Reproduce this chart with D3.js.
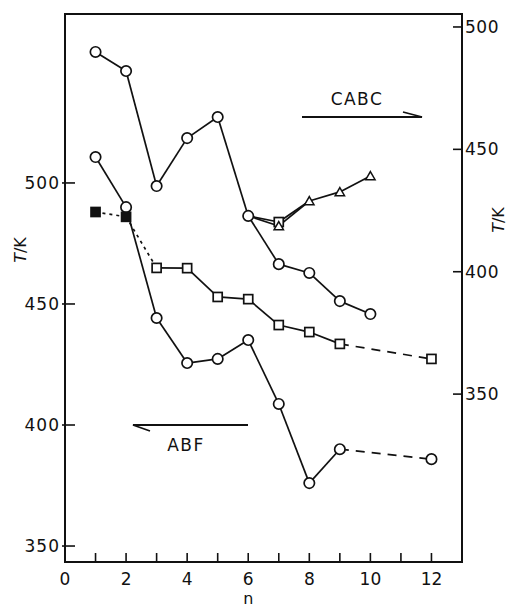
<!DOCTYPE html>
<html>
<head>
<meta charset="utf-8">
<script src="https://cdn.jsdelivr.net/npm/d3@7"></script>
<style>
  body { margin: 0; background: #fff; }
  text { font-family: "DejaVu Sans", sans-serif; fill: #111; }
</style>
</head>
<body>
<script>
// ABF series (left axis)
const abfCircN = [1, 2, 3, 4, 5, 6, 7, 8, 9, 12];
const abfCircT = [510.7, 490, 444.2, 425.6, 427.3, 435.1, 408.7, 376, 390, 385.9];
const abfCircDash = ["s", "s", "s", "s", "s", "s", "s", "s", "d"];

const abfSqN = [1, 2, 3, 4, 5, 6, 7, 8, 9, 12];
const abfSqT = [488, 486, 464.9, 464.8, 452.9, 452, 441.3, 438.4, 433.5, 427.3];
const abfSqFilled = [1, 1, 0, 0, 0, 0, 0, 0, 0, 0];
const abfSqDash = ["o", "o", "s", "s", "s", "s", "s", "s", "d"];

// CABC series (right axis)
const cabcCircN = [1, 2, 3, 4, 5, 6, 7, 8, 9, 10];
const cabcCircT = [489.8, 482, 435, 454.6, 463.2, 422.8, 403.1, 399.5, 388, 382.7];

const cabcTriN = [6, 7, 8, 9, 10];
const cabcTriT = [422.8, 418.7, 428.9, 432.6, 439.1];
const cabcTriMark = [0, 1, 1, 1, 1];

const cabcSqN = [6, 7, 8];
const cabcSqT = [422.8, 420.3, 428.9];
const cabcSqMark = [0, 1, 0];

const xTicks = d3.range(0, 13);
const xLabels = [0, 2, 4, 6, 8, 10, 12];
const leftTicks = [350, 400, 450, 500];
const rightTicks = [350, 400, 450, 500];

const width = 510, height = 609;
const L = 65, R = 462, T = 14, B = 562;

const svg = d3.select("body").append("svg")
  .attr("width", width).attr("height", height);

const x = d3.scaleLinear().domain([0, 13]).range([L, R]);
const yL = d3.scaleLinear().domain([343.4, 569.8]).range([B, T]);
const yR = d3.scaleLinear().domain([281.4, 505.3]).range([B, T]);

// frame
svg.append("rect")
  .attr("x", L).attr("y", T).attr("width", R - L).attr("height", B - T)
  .attr("fill", "none").attr("stroke", "#111").attr("stroke-width", 2);

// x ticks (inside)
svg.append("g").selectAll("line").data(xTicks.filter(d => d > 0)).enter()
  .append("line")
  .attr("x1", d => x(d)).attr("x2", d => x(d))
  .attr("y1", B).attr("y2", B - 9)
  .attr("stroke", "#111").attr("stroke-width", 1.6);
svg.append("g").selectAll("text").data(xLabels).enter()
  .append("text")
  .attr("x", d => x(d)).attr("y", 585)
  .attr("text-anchor", "middle").attr("font-size", 17)
  .text(d => d);
svg.append("text").attr("x", x(6)).attr("y", 604)
  .attr("text-anchor", "middle").attr("font-size", 16).text("n");

// left axis ticks
svg.append("g").selectAll("line").data(leftTicks).enter()
  .append("line")
  .attr("x1", L - 3).attr("x2", L + 10)
  .attr("y1", d => yL(d)).attr("y2", d => yL(d))
  .attr("stroke", "#111").attr("stroke-width", 1.6);
svg.append("g").selectAll("text").data(leftTicks).enter()
  .append("text")
  .attr("x", 60).attr("y", d => yL(d) + 6)
  .attr("text-anchor", "end").attr("font-size", 17).attr("letter-spacing", 1)
  .text(d => d);

// right axis ticks
svg.append("g").selectAll("line").data(rightTicks).enter()
  .append("line")
  .attr("x1", R - 9).attr("x2", R)
  .attr("y1", d => yR(d)).attr("y2", d => yR(d))
  .attr("stroke", "#111").attr("stroke-width", 1.6);
svg.append("g").selectAll("text").data(rightTicks).enter()
  .append("text")
  .attr("x", 465).attr("y", d => yR(d) + 6)
  .attr("text-anchor", "start").attr("font-size", 17).attr("letter-spacing", 0.5)
  .text(d => d);

// axis titles
function axTitle(cx, cy) {
  const t = svg.append("text")
    .attr("transform", `translate(${cx},${cy}) rotate(-90)`)
    .attr("text-anchor", "middle").attr("font-size", 16);
  t.append("tspan").attr("font-style", "italic").text("T");
  t.append("tspan").text("/K");
}
axTitle(26, 250);
axTitle(504, 220);

// lines
const dashes = { s: null, d: "9,7", o: "3,4" };
function drawLine(ns, ts, y, styles) {
  for (let i = 0; i < ns.length - 1; i++) {
    const st = styles ? styles[i] : "s";
    svg.append("line")
      .attr("x1", x(ns[i])).attr("y1", y(ts[i]))
      .attr("x2", x(ns[i + 1])).attr("y2", y(ts[i + 1]))
      .attr("stroke", "#111").attr("stroke-width", 1.7)
      .attr("stroke-dasharray", dashes[st]);
  }
}
drawLine(abfCircN, abfCircT, yL, abfCircDash);
drawLine(abfSqN, abfSqT, yL, abfSqDash);
drawLine(cabcCircN, cabcCircT, yR);
drawLine(cabcSqN, cabcSqT, yR);
drawLine(cabcTriN, cabcTriT, yR);

// markers
function circles(ns, ts, y) {
  svg.append("g").selectAll("circle").data(ns).enter()
    .append("circle")
    .attr("cx", d => x(d)).attr("cy", (d, i) => y(ts[i])).attr("r", 5.2)
    .attr("fill", "#fff").attr("stroke", "#111").attr("stroke-width", 1.7);
}
function squares(ns, ts, y, filled, mark) {
  svg.append("g").selectAll("rect").data(ns.filter((d, i) => !mark || mark[i])).enter()
    .append("rect")
    .attr("x", d => x(d) - 4.5)
    .attr("y", d => y(ts[ns.indexOf(d)]) - 4.5)
    .attr("width", 9).attr("height", 9)
    .attr("fill", d => filled && filled[ns.indexOf(d)] ? "#111" : "#fff")
    .attr("stroke", "#111").attr("stroke-width", 1.7);
}
function triangles(ns, ts, y, mark) {
  const sym = d3.symbol().type(d3.symbolTriangle).size(38);
  svg.append("g").selectAll("path").data(ns.filter((d, i) => mark[i])).enter()
    .append("path")
    .attr("d", sym)
    .attr("transform", d => `translate(${x(d)},${y(ts[ns.indexOf(d)]) + 1})`)
    .attr("fill", "#fff").attr("stroke", "#111").attr("stroke-width", 1.5);
}
circles(abfCircN, abfCircT, yL);
squares(abfSqN, abfSqT, yL, abfSqFilled);
circles(cabcCircN, cabcCircT, yR);
squares(cabcSqN, cabcSqT, yR, null, cabcSqMark);
triangles(cabcTriN, cabcTriT, yR, cabcTriMark);

// annotations
svg.append("text").attr("x", 357).attr("y", 105)
  .attr("text-anchor", "middle").attr("font-size", 17).attr("letter-spacing", 1.5)
  .text("CABC");
svg.append("path").attr("d", "M302,117 L422,117 L403,112")
  .attr("fill", "none").attr("stroke", "#111").attr("stroke-width", 1.8);
svg.append("text").attr("x", 186).attr("y", 451)
  .attr("text-anchor", "middle").attr("font-size", 17).attr("letter-spacing", 1.5)
  .text("ABF");
svg.append("path").attr("d", "M248,425 L133,425 L150,431")
  .attr("fill", "none").attr("stroke", "#111").attr("stroke-width", 1.8);
</script>
</body>
</html>
